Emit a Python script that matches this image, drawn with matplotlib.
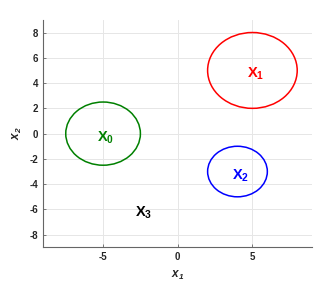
import matplotlib
matplotlib.use("Agg")
import matplotlib.pyplot as plt
from matplotlib.patches import Ellipse

# cluster centres, radii and labels
names = ["0", "1", "2", "3"]
centers_x = [-5, 5, 4, -2.5]
centers_y = [0, 5, -3, -6]
radii = [2.5, 3, 2, 0]
colors = ["#008000", "#ff0000", "#0000ff", "#000000"]

x_ticks = [-5, 0, 5]
y_ticks = [-8, -6, -4, -2, 0, 2, 4, 6, 8]

plt.rcParams['font.family'] = ['Liberation Sans', 'DejaVu Sans']
plt.rcParams['axes.unicode_minus'] = False
plt.rcParams['mathtext.fontset'] = 'custom'
plt.rcParams['mathtext.rm'] = 'Liberation Sans'
plt.rcParams['mathtext.it'] = 'Liberation Sans:italic'
plt.rcParams['mathtext.bf'] = 'Liberation Sans:bold'
plt.rcParams['mathtext.bfit'] = 'Liberation Sans:bold:italic'

fig = plt.figure(figsize=(3.36, 2.84), dpi=100)
ax = fig.add_axes([0.129, 0.129, 0.800, 0.801])

for i in range(len(names)):
    if radii[i] > 0:
        ax.add_patch(Ellipse((centers_x[i], centers_y[i]), 2 * radii[i], 2 * radii[i],
                             fill=False, edgecolor=colors[i], linewidth=1.1))
    ax.text(centers_x[i] + 0.2, centers_y[i] - 0.3, "$\\mathbf{X_" + names[i] + "}$",
            color=colors[i], ha='center', va='center', fontsize=10.5)

ax.set_xlim(-9, 9)
ax.set_ylim(-9, 9)
ax.set_xticks(x_ticks)
ax.set_yticks(y_ticks)
ax.grid(True, color='#e6e6e6', linewidth=0.7)
ax.set_axisbelow(True)

for side in ['top', 'right']:
    ax.spines[side].set_visible(False)
for side in ['left', 'bottom']:
    ax.spines[side].set_color('#666666')
    ax.spines[side].set_linewidth(0.8)

ax.tick_params(direction='in', length=2.5, width=0.6, colors='#666666',
               labelcolor='#262626', labelsize=7)
for lab in ax.get_xticklabels() + ax.get_yticklabels():
    lab.set_fontweight('bold')

ax.set_xlabel("$\\mathbfit{x_1}$", fontsize=8.5, color='#262626', labelpad=5)
ax.set_ylabel("$\\mathbfit{x_2}$", fontsize=8.5, color='#262626', labelpad=4)

fig.savefig("out.png", dpi=100)
